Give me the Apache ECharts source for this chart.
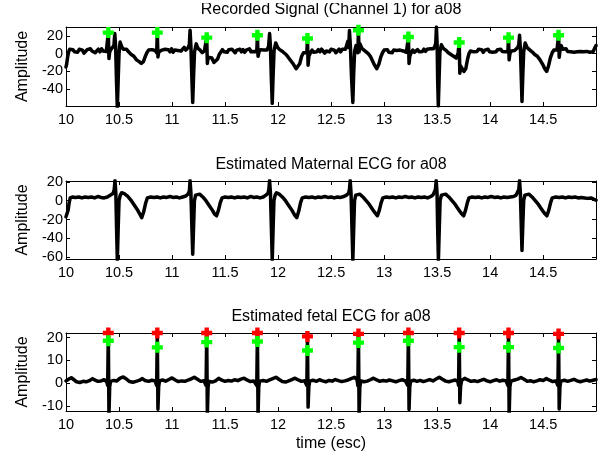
<!DOCTYPE html>
<html lang="en">
  <head>
    <meta charset="UTF-8" />
    <title>ECG a08</title>
    <script src="https://cdn.jsdelivr.net/npm/echarts@6/dist/echarts.min.js"></script>
    <style>
      * { margin: 0; padding: 0; box-sizing: border-box; }
      body { background: #fff; overflow: hidden; }
      #chart { width: 607px; height: 456px; }
    </style>
  </head>
  <body>
    <div id="chart"></div>
    <script>
      // time ticks shared by all three panels
      const xTicks = [10, 10.5, 11, 11.5, 12, 12.5, 13, 13.5, 14, 14.5];

      const titles = [
        "Recorded Signal (Channel 1) for a08",
        "Estimated Maternal ECG for a08",
        "Estimated fetal ECG for a08",
      ];

      // y ranges / ticks per panel
      const yRanges = [[-59, 30], [-62, 21], [-12.2, 22]];
      const yTicks = [
        [-40, -20, 0, 20],
        [-60, -40, -20, 0, 20],
        [-10, 0, 10, 20],
      ];

      // fetal R-peak times (s)
      const fetalTimes = [10.399, 10.861, 11.327, 11.805, 12.277, 12.758, 13.229, 13.708, 14.173, 14.645];
      // markers
      const recordedGreen = [23.7, 23.7, 18, 20.7, 17, 26.3, 18.8, 12.5, 18, 20.7];
      const fetalRed = [22, 22, 22, 22, 20.5, 21.6, 22, 22, 22, 21.6];
      const fetalGreen = [18.6, 15.7, 18, 18.3, 14.3, 17.8, 18.6, 15.8, 15.8, 15.4];

      // recorded abdominal signal, channel 1 [t, amplitude]
      const recorded = [
        [10.000,-15],[10.006,-12],[10.015,-4],[10.025,2],[10.035,5],[10.050,3],[10.065,4.5],[10.080,2],[10.095,4],[10.110,1.5],
        [10.125,5],[10.140,3],[10.155,4],[10.170,0.5],[10.185,2],[10.200,4.5],[10.215,2.5],[10.230,5.5],[10.245,3],[10.260,4],
        [10.275,1],[10.290,2.5],[10.305,5],[10.320,2],[10.335,5.5],[10.350,3],[10.365,4],[10.380,2.5],[10.393,1],[10.399,23.7],
        [10.405,-5.5],[10.412,2],[10.425,5],[10.440,7],[10.452,9],[10.460,22.6],[10.468,8],[10.476,-30],[10.484,-61],[10.492,-30],
        [10.500,0],[10.510,13],[10.525,8],[10.540,5],[10.555,6.5],[10.570,5],[10.590,2],[10.615,-1],[10.640,-3],[10.665,-7],
        [10.690,-9],[10.710,-11],[10.730,-9],[10.748,-3],[10.765,1.5],[10.780,4],[10.795,2],[10.810,4.5],[10.825,2.5],[10.840,3.5],
        [10.855,1],[10.861,23.7],[10.867,-3.7],[10.875,2],[10.890,1],[10.905,4],[10.920,2.5],[10.935,5],[10.950,3],[10.965,4.5],
        [10.980,2],[10.995,5.5],[11.010,1.5],[11.025,4],[11.040,2],[11.055,3.5],[11.070,5],[11.085,3],[11.100,4.5],[11.115,7],
        [11.130,4],[11.150,6.5],[11.163,10],[11.170,26.3],[11.178,8],[11.187,-28],[11.195,-55],[11.203,-25],[11.212,2],[11.228,11],
        [11.245,6],[11.265,4],[11.285,1],[11.305,3],[11.321,2],[11.327,18],[11.333,-11],[11.340,-4],[11.355,-6],[11.375,-5],
        [11.395,-10],[11.412,-12],[11.430,-6],[11.445,-1],[11.462,2],[11.475,4.5],[11.490,2],[11.505,4],[11.520,1.5],[11.535,4.5],
        [11.550,2.5],[11.565,5],[11.580,3],[11.595,1],[11.610,4],[11.625,2.5],[11.640,5],[11.655,2],[11.670,4.5],[11.685,1.5],
        [11.700,4],[11.715,3],[11.730,5.5],[11.745,2],[11.760,4],[11.775,2.5],[11.790,4],[11.799,2],[11.805,20.7],[11.811,-3],
        [11.820,2],[11.835,4.5],[11.850,2.5],[11.865,4],[11.880,5.5],[11.895,4],[11.910,8],[11.920,22.6],[11.928,8],[11.937,-30],
        [11.945,-56],[11.953,-25],[11.962,3],[11.978,12],[11.995,7],[12.015,4.5],[12.035,3],[12.055,1],[12.075,-1],[12.095,-4],
        [12.120,-8],[12.145,-12],[12.170,-17],[12.188,-18.6],[12.205,-11],[12.222,-3],[12.240,1],[12.258,3],[12.271,1],[12.277,17],
        [12.283,-13],[12.290,-3],[12.305,1],[12.320,4],[12.335,1.5],[12.350,3.5],[12.365,2],[12.380,4.5],[12.395,2],[12.410,5],
        [12.425,3],[12.440,0.5],[12.455,3],[12.470,4.5],[12.485,2],[12.500,5],[12.515,3],[12.530,4],[12.545,1],[12.560,3],
        [12.575,5],[12.590,2],[12.605,5],[12.620,3.5],[12.635,5],[12.648,7],[12.658,14],[12.666,7],[12.673,26],[12.682,8],
        [12.693,-28],[12.705,-55],[12.713,-22],[12.722,3],[12.735,9],[12.745,4],[12.752,1],[12.758,26.3],[12.764,2],[12.772,11],
        [12.790,6],[12.810,4],[12.830,2],[12.850,0],[12.870,-3],[12.890,-8],[12.910,-13],[12.930,-17],[12.950,-12],[12.968,-4],
        [12.985,1],[13.000,4],[13.015,2],[13.030,4.5],[13.045,1.5],[13.060,3.5],[13.075,1],[13.090,4],[13.105,2],[13.120,3.5],
        [13.135,1.5],[13.150,4],[13.165,5.5],[13.180,3],[13.195,4],[13.210,1.5],[13.223,2],[13.229,18.8],[13.235,-11],[13.242,-3],
        [13.255,1],[13.270,4],[13.285,1.5],[13.300,3],[13.315,4.5],[13.330,2],[13.345,4],[13.360,2.5],[13.375,5],[13.390,2.5],
        [13.405,5],[13.420,3],[13.435,5.5],[13.450,4],[13.465,5.5],[13.478,8],[13.487,12],[13.493,30],[13.500,10],[13.505,-30],
        [13.511,-59],[13.518,-30],[13.526,2],[13.540,10],[13.558,6],[13.580,4],[13.605,1],[13.630,-1],[13.655,-3],[13.680,-5],
        [13.698,1],[13.708,12.5],[13.714,-22],[13.722,-14],[13.735,-16],[13.752,-20],[13.770,-17],[13.787,-6],[13.800,0],[13.815,3],
        [13.830,4.5],[13.845,2],[13.860,4],[13.875,2.5],[13.890,5],[13.905,3],[13.920,4.5],[13.935,1.5],[13.950,4],[13.965,2.5],
        [13.980,5],[13.995,2],[14.010,4],[14.025,1.5],[14.040,3.5],[14.055,2],[14.070,4.5],[14.085,3],[14.100,5],[14.115,2.5],
        [14.130,4],[14.145,2],[14.160,3.5],[14.167,2],[14.173,18],[14.179,-7],[14.186,0],[14.200,3],[14.215,5],[14.230,3.5],
        [14.245,5],[14.260,7],[14.270,10],[14.277,20.7],[14.285,6],[14.293,-25],[14.300,-54],[14.308,-24],[14.316,2],[14.330,12],
        [14.348,7],[14.370,4.5],[14.395,2],[14.420,-1],[14.445,-3],[14.470,-7],[14.495,-12],[14.515,-17],[14.533,-20],[14.550,-14],
        [14.567,-5],[14.585,1],[14.600,4],[14.615,2],[14.630,4],[14.639,5],[14.645,20.7],[14.651,-4],[14.658,3],[14.670,9],
        [14.685,5],[14.700,3],[14.715,5.5],[14.730,2.5],[14.745,4.5],[14.760,2],[14.775,4],[14.790,1.5],[14.805,3.5],[14.820,2],
        [14.835,4],[14.850,2.5],[14.865,4.5],[14.880,2],[14.895,4],[14.910,2.5],[14.925,4.5],[14.940,1.5],[14.955,3.5],[14.970,2],
        [14.985,6],[14.998,9],
      ];

      // estimated maternal ECG [t, amplitude]
      const maternal = [
        [10.000,-17],[10.010,-15],[10.020,-10],[10.030,-2],[10.040,3],[10.060,4],[10.090,3.5],[10.120,4],[10.150,3],[10.180,4],
        [10.210,3.5],[10.240,4],[10.270,3],[10.300,4.5],[10.330,3.5],[10.360,3],[10.390,4],[10.420,6],[10.445,8],[10.455,12],
        [10.462,21.5],[10.470,8],[10.477,-30],[10.484,-63],[10.492,-30],[10.500,0],[10.512,6],[10.525,8.5],[10.550,7.5],[10.580,5],
        [10.610,1],[10.640,-4],[10.670,-9],[10.695,-14],[10.714,-18],[10.732,-12],[10.750,-3],[10.767,3],[10.800,4],[10.830,3.5],
        [10.860,4],[10.890,3],[10.920,4],[10.950,3.5],[10.980,4.5],[11.010,3.5],[11.040,4],[11.070,3],[11.100,4],[11.130,5],
        [11.150,7],[11.163,10],[11.170,21.5],[11.178,8],[11.187,-28],[11.195,-57],[11.203,-28],[11.211,0],[11.222,6],[11.235,8],
        [11.260,7],[11.290,4],[11.320,0],[11.350,-5],[11.380,-10],[11.400,-14],[11.420,-16],[11.438,-10],[11.455,-2],[11.472,3],
        [11.500,4],[11.530,3.5],[11.560,4],[11.590,3],[11.620,4],[11.650,3.5],[11.680,4],[11.710,3],[11.740,4.5],[11.770,3.5],
        [11.800,4],[11.830,3],[11.860,4],[11.885,6],[11.905,8],[11.913,12],[11.920,21.5],[11.928,8],[11.937,-30],[11.945,-63],
        [11.953,-30],[11.961,0],[11.972,6],[11.985,8.5],[12.010,7],[12.040,4],[12.070,0],[12.100,-5],[12.130,-10],[12.155,-15],
        [12.176,-18],[12.195,-11],[12.212,-2],[12.228,3],[12.260,4],[12.290,3.5],[12.320,4],[12.350,3],[12.380,4],[12.410,3.5],
        [12.440,4.5],[12.470,3.5],[12.500,4],[12.530,3],[12.560,4],[12.590,3.5],[12.620,4.5],[12.645,6],[12.665,8],[12.673,12],
        [12.680,21.5],[12.688,8],[12.697,-30],[12.705,-63],[12.713,-30],[12.721,0],[12.732,6],[12.745,8],[12.770,7],[12.800,4],
        [12.830,0],[12.860,-4],[12.890,-9],[12.915,-13],[12.937,-16],[12.955,-10],[12.972,-2],[12.988,3],[13.020,4],[13.050,3.5],
        [13.080,4],[13.110,3],[13.140,4],[13.170,3.5],[13.200,4.5],[13.230,3.5],[13.260,4],[13.290,3],[13.320,4],[13.350,3.5],
        [13.380,4],[13.410,3],[13.440,4.5],[13.460,6],[13.477,8],[13.484,12],[13.491,21.5],[13.499,8],[13.505,-30],[13.512,-63],
        [13.520,-30],[13.528,0],[13.540,6],[13.553,8],[13.580,7],[13.610,4],[13.640,0],[13.670,-4],[13.700,-9],[13.725,-13],
        [13.750,-16],[13.768,-10],[13.785,-2],[13.800,3],[13.830,4],[13.860,3.5],[13.890,4],[13.920,3],[13.950,4],[13.980,3.5],
        [14.010,4.5],[14.040,3.5],[14.070,4],[14.100,3],[14.130,4],[14.160,3.5],[14.190,4],[14.220,4.5],[14.245,6],[14.262,8],
        [14.270,12],[14.277,21.5],[14.285,8],[14.293,-25],[14.300,-53],[14.308,-25],[14.316,0],[14.327,6],[14.340,8],[14.365,7],
        [14.395,4],[14.425,0],[14.455,-4],[14.485,-9],[14.510,-13],[14.535,-16],[14.553,-10],[14.570,-2],[14.585,3],[14.620,4],
        [14.650,3.5],[14.680,4],[14.710,3],[14.740,4],[14.770,3.5],[14.800,4],[14.830,3],[14.860,3.5],[14.890,3],[14.920,2.5],
        [14.950,3],[14.970,2],[14.998,0.5],
      ];

      // estimated fetal ECG [t, amplitude]
      const fetal = [
        [10.000,1.0],[10.020,1.6],[10.050,2.4],[10.075,1.5],[10.100,0.6],[10.130,0.3],[10.160,0.8],[10.190,0.6],[10.220,1.1],[10.250,2.0],
        [10.270,1.4],[10.300,0.8],[10.330,1.0],[10.360,1.5],[10.385,0.6],[10.393,-1],[10.399,22],[10.405,-14],[10.412,-1.5],[10.420,0.8],
        [10.450,1.2],[10.480,1.0],[10.510,2.2],[10.540,2.7],[10.570,1.8],[10.600,0.7],[10.630,0.4],[10.660,0.8],[10.690,1.2],[10.720,2.0],
        [10.745,1.2],[10.780,0.8],[10.810,1.3],[10.840,1.0],[10.855,-1],[10.861,22],[10.867,-11.4],[10.874,-1.5],[10.882,1.0],[10.910,1.4],
        [10.940,0.9],[10.970,1.6],[11.000,2.3],[11.030,1.4],[11.060,0.7],[11.090,1.0],[11.120,0.8],[11.150,1.3],[11.180,1.9],[11.210,2.6],
        [11.240,1.7],[11.270,0.8],[11.300,1.1],[11.321,-1],[11.327,22],[11.333,-14],[11.340,-1.5],[11.348,0.8],[11.380,0.5],[11.410,1.0],
        [11.440,2.1],[11.470,1.3],[11.500,0.8],[11.530,1.2],[11.560,0.9],[11.590,1.5],[11.620,1.1],[11.650,1.8],[11.680,2.2],[11.710,1.3],
        [11.740,0.7],[11.770,1.0],[11.799,-1],[11.805,22],[11.811,-14],[11.818,-1.5],[11.826,0.9],[11.860,1.2],[11.890,0.8],[11.920,1.4],
        [11.950,2.0],[11.980,2.6],[12.010,1.6],[12.040,0.7],[12.070,0.5],[12.100,1.0],[12.130,1.6],[12.160,2.2],[12.190,1.4],[12.220,0.8],
        [12.250,1.1],[12.271,-1],[12.277,20.5],[12.283,-10.5],[12.290,-1.5],[12.298,0.9],[12.330,1.3],[12.360,0.8],[12.390,1.5],[12.420,1.0],
        [12.450,0.6],[12.480,1.2],[12.510,0.9],[12.540,1.6],[12.570,1.1],[12.600,0.7],[12.630,1.0],[12.660,1.4],[12.690,2.0],[12.720,2.6],
        [12.745,1.5],[12.752,-1],[12.758,21.6],[12.764,-14],[12.771,-1.5],[12.780,1.0],[12.810,0.6],[12.840,0.9],[12.870,1.5],[12.900,2.2],
        [12.930,1.4],[12.960,0.8],[12.990,1.2],[13.020,0.9],[13.050,1.4],[13.080,1.0],[13.110,0.6],[13.140,1.1],[13.170,1.5],[13.200,1.0],
        [13.223,-1],[13.229,22],[13.235,-11.5],[13.242,-1.5],[13.250,0.9],[13.280,1.3],[13.310,0.8],[13.340,1.2],[13.370,0.7],[13.400,1.1],
        [13.430,1.6],[13.460,1.0],[13.490,1.8],[13.520,2.6],[13.550,1.7],[13.580,0.9],[13.610,0.6],[13.640,1.0],[13.670,1.4],[13.695,0.8],
        [13.702,-1],[13.708,22],[13.714,-8.6],[13.721,-1.5],[13.730,1.2],[13.760,2.1],[13.790,1.4],[13.820,0.8],[13.850,1.1],[13.880,0.7],
        [13.910,1.2],[13.940,1.7],[13.970,1.0],[14.000,0.6],[14.030,1.1],[14.060,1.5],[14.090,0.9],[14.120,1.3],[14.150,1.0],[14.167,-1],
        [14.173,22],[14.179,-14],[14.186,-1.5],[14.195,0.9],[14.230,1.4],[14.260,1.8],[14.290,2.5],[14.320,1.7],[14.350,0.8],[14.380,1.1],
        [14.410,0.6],[14.440,1.0],[14.470,1.5],[14.500,1.2],[14.530,2.0],[14.560,1.3],[14.590,0.7],[14.620,1.0],[14.639,-1],[14.645,21.6],
        [14.651,-11.3],[14.658,-1.5],[14.666,0.9],[14.700,1.3],[14.730,0.8],[14.760,1.2],[14.790,1.7],[14.820,1.0],[14.850,0.6],[14.880,1.0],
        [14.910,1.4],[14.940,0.9],[14.970,1.3],[14.998,1.6],
      ];

      const FONT = "'Liberation Sans', Arial, Helvetica, sans-serif";
      const X_MIN = 10, X_MAX = 14.998;

      const grids = [
        { left: 66, right: 11, top: 27, height: 79 },
        { left: 66, right: 11, top: 181, height: 78 },
        { left: 66, right: 11, top: 333, height: 78 },
      ];

      // plus-shaped marker like matlab's thick '+'
      const plusPath = "path://M3,0H7V3H10V7H7V10H3V7H0V3H3Z";

      function xAxisFor(i, mirror) {
        return {
          type: "value",
          gridIndex: i,
          position: mirror ? "top" : "bottom",
          min: X_MIN,
          max: X_MAX,
          axisLine: { show: true, onZero: false, lineStyle: { color: "#000", width: 1 } },
          axisTick: { show: true, inside: true, length: 4, customValues: xTicks, lineStyle: { color: "#000" } },
          axisLabel: {
            show: !mirror,
            customValues: xTicks,
            margin: 6,
            color: "#000",
            fontSize: 14.5,
            fontFamily: FONT,
          },
          splitLine: { show: false },
          name: !mirror && i === 2 ? "time (esc)" : "",
          nameLocation: "middle",
          nameGap: 25,
          nameTextStyle: { color: "#000", fontSize: 16, fontFamily: FONT },
        };
      }

      function yAxisFor(i, mirror) {
        return {
          type: "value",
          gridIndex: i,
          position: mirror ? "right" : "left",
          min: yRanges[i][0],
          max: yRanges[i][1],
          axisLine: { show: true, onZero: false, lineStyle: { color: "#000", width: 1 } },
          axisTick: { show: true, inside: true, length: 4, customValues: yTicks[i], lineStyle: { color: "#000" } },
          axisLabel: {
            show: !mirror,
            customValues: yTicks[i],
            margin: 3,
            color: "#000",
            fontSize: 14.5,
            fontFamily: FONT,
          },
          splitLine: { show: false },
          name: mirror ? "" : "Amplitude",
          nameLocation: "middle",
          nameGap: 35,
          nameTextStyle: { color: "#000", fontSize: 16, fontFamily: FONT },
        };
      }

      function lineSeries(i, data) {
        return {
          type: "line",
          xAxisIndex: i,
          yAxisIndex: i,
          data: data,
          showSymbol: false,
          symbol: "none",
          clip: true,
          silent: true,
          animation: false,
          lineStyle: { color: "#000", width: 3.5, join: "round", cap: "round" },
          z: 2,
        };
      }

      function markerSeries(i, values, color) {
        return {
          type: "scatter",
          xAxisIndex: i,
          yAxisIndex: i,
          data: fetalTimes.map((t, k) => [t, values[k]]),
          symbol: plusPath,
          symbolSize: 11,
          clip: false,
          silent: true,
          animation: false,
          itemStyle: { color: color, opacity: 1 },
          z: 5,
        };
      }

      const myChart = echarts.init(document.getElementById("chart"), null, { renderer: "canvas" });

      // titles sit a little above each panel; the first one is cut at the top like in the exported figure
      const titleOffsets = [9.5, 8, 8];
      const titleGraphics = titles.map((t, i) => ({
        type: "text",
        x: 331,
        y: grids[i].top - titleOffsets[i],
        z: 1,
        style: {
          text: t,
          font: "16px " + FONT,
          fill: "#000",
          textAlign: "center",
          textVerticalAlign: "bottom",
        },
      }));
      titleGraphics.push({
        type: "rect",
        shape: { x: 0, y: 0, width: 607, height: 3 },
        style: { fill: "#fff" },
        z: 10,
      });

      const option = {
        backgroundColor: "#fff",
        animation: false,
        grid: grids,
        xAxis: [0, 1, 2].map((i) => xAxisFor(i, false)).concat([0, 1, 2].map((i) => xAxisFor(i, true))),
        yAxis: [0, 1, 2].map((i) => yAxisFor(i, false)).concat([0, 1, 2].map((i) => yAxisFor(i, true))),
        graphic: titleGraphics,
        series: [
          lineSeries(0, recorded),
          lineSeries(1, maternal),
          lineSeries(2, fetal),
          markerSeries(0, recordedGreen, "#00ff00"),
          markerSeries(2, fetalRed, "#ff0000"),
          markerSeries(2, fetalGreen, "#00ff00"),
        ],
      };

      myChart.setOption(option);
    </script>
  </body>
</html>
